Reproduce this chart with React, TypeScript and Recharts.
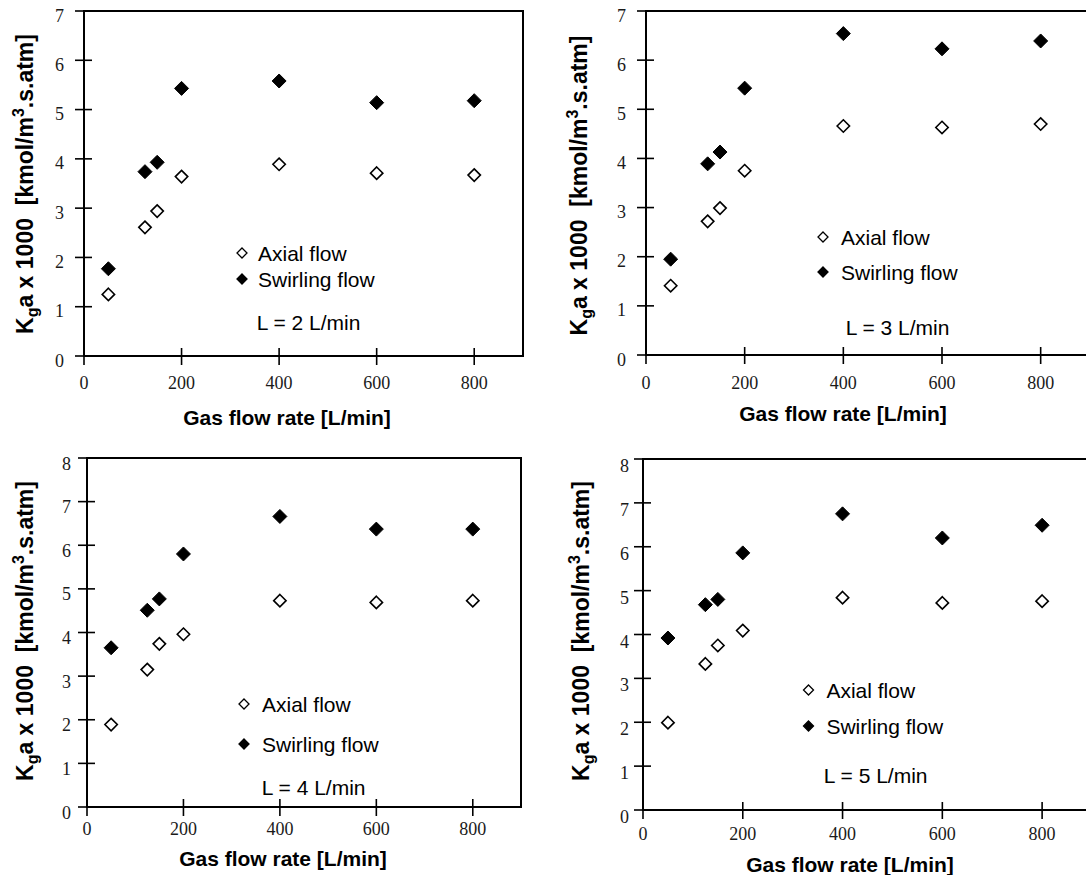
import React from 'react';
import { ScatterChart, Scatter, XAxis, YAxis, ReferenceArea, Legend } from 'recharts';

// ---------------- data ----------------
const gasFlowRate = [50, 125, 150, 200, 400, 600, 800];
const xTickValues = [0, 200, 400, 600, 800];
const yTicksTop = [0, 1, 2, 3, 4, 5, 6, 7];
const yTicksBottom = [0, 1, 2, 3, 4, 5, 6, 7, 8];
const seriesNames = ['Axial flow', 'Swirling flow'];
const liquidLabels = ['L = 2 L/min', 'L = 3 L/min', 'L = 4 L/min', 'L = 5 L/min'];

const axialL2 = [1.25, 2.61, 2.94, 3.64, 3.89, 3.71, 3.67];
const swirlL2 = [1.77, 3.74, 3.93, 5.43, 5.58, 5.14, 5.18];
const axialL3 = [1.41, 2.72, 2.99, 3.75, 4.66, 4.63, 4.7];
const swirlL3 = [1.95, 3.89, 4.13, 5.43, 6.54, 6.23, 6.39];
const axialL4 = [1.89, 3.15, 3.74, 3.96, 4.73, 4.69, 4.73];
const swirlL4 = [3.65, 4.51, 4.77, 5.8, 6.66, 6.37, 6.37];
const axialL5 = [1.99, 3.33, 3.75, 4.09, 4.84, 4.72, 4.76];
const swirlL5 = [3.92, 4.68, 4.8, 5.86, 6.75, 6.2, 6.49];

// ---------------- styling ----------------
const SANS = '"Liberation Sans", Arial, Helvetica, sans-serif';
const SERIF = '"Liberation Serif", "Times New Roman", serif';
const TICK_OUT = 9;
const TICK_IN = 8;
const X_AXIS_H = 40;
const X_MAX = 900;

type Panel = {
  left: number; top: number; width: number; height: number;
  plot: [number, number, number, number];
  yMax: number; yTicks: number[];
  axial: number[]; swirl: number[]; label: string;
  xLabelDy: number; yLabelGap: number; yLabelDy: number;
  yTitle: [number, number]; xTitle: [number, number];
  legend: { dx: number; tx: number; rows: [number, number] };
  lText: [number, number];
};

const panels: Panel[] = [
  {
    left: 0, top: 0, width: 543, height: 437, plot: [84, 11, 523, 356],
    yMax: 7, yTicks: yTicksTop, axial: axialL2, swirl: swirlL2, label: liquidLabels[0],
    xLabelDy: 27, yLabelGap: 20, yLabelDy: 4.5,
    yTitle: [33, 184], xTitle: [287, 417],
    legend: { dx: 242, tx: 258, rows: [253, 279] }, lText: [308.5, 322],
  },
  {
    left: 543, top: 0, width: 570, height: 437, plot: [646, 11, 1090, 355],
    yMax: 7, yTicks: yTicksTop, axial: axialL3, swirl: swirlL3, label: liquidLabels[1],
    xLabelDy: 28, yLabelGap: 20, yLabelDy: 4.5,
    yTitle: [587, 185.5], xTitle: [843, 413],
    legend: { dx: 823, tx: 841, rows: [237, 272] }, lText: [897.5, 327],
  },
  {
    left: 0, top: 437, width: 543, height: 438, plot: [87, 458, 521, 807],
    yMax: 8, yTicks: yTicksBottom, axial: axialL4, swirl: swirlL4, label: liquidLabels[2],
    xLabelDy: 22, yLabelGap: 16, yLabelDy: 5.5,
    yTitle: [32.5, 631], xTitle: [283, 858.7],
    legend: { dx: 244, tx: 262, rows: [704, 744] }, lText: [313.7, 787],
  },
  {
    left: 543, top: 437, width: 570, height: 438, plot: [643, 459, 1092, 810],
    yMax: 8, yTicks: yTicksBottom, axial: axialL5, swirl: swirlL5, label: liquidLabels[3],
    xLabelDy: 24, yLabelGap: 14, yLabelDy: 7,
    yTitle: [589, 631], xTitle: [850, 864.7],
    legend: { dx: 808.5, tx: 826.4, rows: [690, 726] }, lText: [875.7, 775],
  },
];

const diamondPath = (cx: number, cy: number, r: number) =>
  `M${cx},${cy - r}L${cx + r},${cy}L${cx},${cy + r}L${cx - r},${cy}Z`;

const OpenDiamond = (props: any) => {
  const { cx, cy } = props;
  if (cx == null || cy == null) return null;
  return <path d={diamondPath(cx, cy, 6.2)} fill="#fff" stroke="#000" strokeWidth={1.6} />;
};

const FilledDiamond = (props: any) => {
  const { cx, cy } = props;
  if (cx == null || cy == null) return null;
  return <path d={diamondPath(cx, cy, 7)} fill="#000" stroke="#000" strokeWidth={1} />;
};

const XTick = (props: any) => {
  const { x, y, payload, labelDy } = props;
  const axisY = y - TICK_OUT;
  return (
    <g>
      <line x1={x} x2={x} y1={axisY - TICK_IN} y2={axisY + TICK_OUT} stroke="#000" strokeWidth={1.6} />
      <text x={x} y={axisY + labelDy + 6} textAnchor="middle" fontFamily={SERIF} fontSize={18} fill="#1a1a1a">
        {payload.value}
      </text>
    </g>
  );
};

const YTick = (props: any) => {
  const { x, y, payload, gap, labelDy } = props;
  const axisX = x + TICK_OUT;
  return (
    <g>
      <line x1={axisX - TICK_OUT} x2={axisX + TICK_IN} y1={y} y2={y} stroke="#000" strokeWidth={1.6} />
      <text x={axisX - gap} y={y + labelDy + 6} textAnchor="end" fontFamily={SERIF} fontSize={18} fill="#1a1a1a">
        {payload.value}
      </text>
    </g>
  );
};

const YTitle = (props: any) => {
  const { bx, cy } = props;
  return (
    <text
      x={bx}
      y={cy}
      transform={`rotate(-90 ${bx} ${cy})`}
      textAnchor="middle"
      fontFamily={SANS}
      fontWeight={700}
      fontSize={23}
      fill="#000"
    >
      <tspan>K</tspan>
      <tspan fontSize={16} dy={5}>g</tspan>
      <tspan fontSize={23} dy={-5}>{'a x 1000\u00a0\u00a0[kmol/m'}</tspan>
      <tspan fontSize={16} dy={-9}>3</tspan>
      <tspan fontSize={23} dy={9}>.s.atm]</tspan>
    </text>
  );
};

const XTitle = (props: any) => {
  const { bx, by } = props;
  return (
    <text x={bx} y={by} textAnchor="middle" fontFamily={SANS} fontWeight={700} fontSize={21} fill="#000">
      Gas flow rate [L/min]
    </text>
  );
};

const LegendOverlay = ({ p }: { p: Panel }) => {
  const ox = p.left;
  const oy = p.top;
  return (
    <svg width={p.width} height={p.height} style={{ display: 'block', overflow: 'visible' }}>
      {seriesNames.map((name, i) => {
        const cx = p.legend.dx - ox;
        const cy = p.legend.rows[i] - oy;
        return (
          <g key={name}>
            <path d={diamondPath(cx, cy, 5)} fill={i === 0 ? '#fff' : '#000'} stroke="#000" strokeWidth={1.3} />
            <text x={p.legend.tx - ox} y={cy + 7.5} fontFamily={SANS} fontSize={21} fill="#000">
              {name}
            </text>
          </g>
        );
      })}
      <text x={p.lText[0] - ox} y={p.lText[1] - oy + 7.5} textAnchor="middle" fontFamily={SANS} fontSize={21} fill="#000">
        {p.label}
      </text>
    </svg>
  );
};

const PanelChart = ({ p }: { p: Panel }) => {
  const [pl, pt, pr, pb] = p.plot;
  const relL = pl - p.left;
  const relT = pt - p.top;
  const relR = pr - p.left;
  const relB = pb - p.top;
  const axialData = gasFlowRate.map((x, i) => ({ x, y: p.axial[i] }));
  const swirlData = gasFlowRate.map((x, i) => ({ x, y: p.swirl[i] }));
  return (
    <div style={{ position: 'absolute', left: p.left, top: p.top, width: p.width, height: p.height }}>
      <ScatterChart
        width={p.width}
        height={p.height}
        margin={{ top: relT, right: p.width - relR, bottom: p.height - relB - X_AXIS_H, left: 0 }}
      >
        <XAxis
          type="number"
          dataKey="x"
          domain={[0, X_MAX]}
          ticks={xTickValues}
          interval={0}
          axisLine={false}
          tickLine={false}
          tickSize={TICK_OUT}
          tickMargin={0}
          height={X_AXIS_H}
          allowDataOverflow
          tick={(tp: any) => <XTick {...tp} labelDy={p.xLabelDy} />}
          label={<XTitle bx={p.xTitle[0] - p.left} by={p.xTitle[1] - p.top + 7.5} />}
        />
        <YAxis
          type="number"
          dataKey="y"
          domain={[0, p.yMax]}
          ticks={p.yTicks}
          interval={0}
          axisLine={false}
          tickLine={false}
          tickSize={TICK_OUT}
          tickMargin={0}
          width={relL}
          allowDataOverflow
          tick={(tp: any) => <YTick {...tp} gap={p.yLabelGap} labelDy={p.yLabelDy} />}
          label={<YTitle bx={p.yTitle[0] - p.left} cy={p.yTitle[1] - p.top} />}
        />
        <ReferenceArea
          x1={0}
          x2={X_MAX}
          y1={0}
          y2={p.yMax}
          fill="none"
          fillOpacity={0}
          stroke="#000"
          strokeWidth={2}
          ifOverflow="visible"
        />
        <Scatter name={seriesNames[0]} data={axialData} shape={OpenDiamond} isAnimationActive={false} />
        <Scatter name={seriesNames[1]} data={swirlData} shape={FilledDiamond} isAnimationActive={false} />
        <Legend
          layout="vertical"
          align="center"
          verticalAlign="middle"
          content={() => <LegendOverlay p={p} />}
          wrapperStyle={{ position: 'absolute', left: 0, top: 0, width: p.width, height: p.height, pointerEvents: 'none' }}
        />
      </ScatterChart>
    </div>
  );
};

export default function App() {
  return (
    <>
      <style>{'html,body{margin:0;padding:0;overflow:hidden;background:#fff;}'}</style>
      <div style={{ position: 'relative', width: 1086, height: 875, overflow: 'hidden', background: '#fff' }}>
        {panels.map((p, i) => (
          <PanelChart key={i} p={p} />
        ))}
      </div>
    </>
  );
}
